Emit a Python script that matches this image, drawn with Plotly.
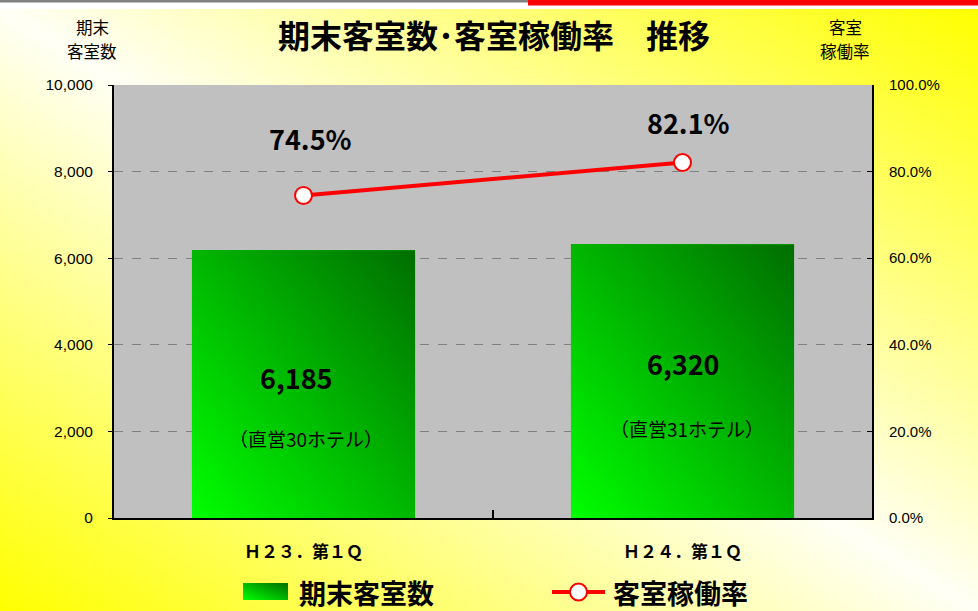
import base64
import plotly.graph_objects as go

# ---- data ----
categories = ["Ｈ２３．第１Ｑ", "Ｈ２４．第１Ｑ"]
rooms = [6185, 6320]
hotel_notes = ["（直営30ホテル）", "（直営31ホテル）"]
occupancy = [0.745, 0.821]
rooms_name = "期末客室数"
occ_name = "客室稼働率"
left_title = ["期末", "客室数"]
right_title = ["客室", "稼働率"]
y_ticks = [0, 2000, 4000, 6000, 8000, 10000]
y2_ticks = [0, 0.2, 0.4, 0.6, 0.8, 1.0]

# ---- layout constants (pixels) ----
W, H = 978, 611
L, R, T, B = 114, 106, 85, 93
PW, PH = W - L - R, H - T - B
JP = "Noto Sans CJK JP"
BW = 0.59


def px(xp):
    return (xp - L) / PW


def py(yp):
    return (H - B - yp) / PH


def svg_uri(svg):
    return "data:image/svg+xml;base64," + base64.b64encode(svg.encode()).decode()


bg_svg = ('<svg xmlns="http://www.w3.org/2000/svg" width="978" height="602" viewBox="0 0 978 602" '
          'preserveAspectRatio="none"><defs><linearGradient id="g" x1="0" y1="1" x2="1" y2="0">'
          '<stop offset="0" stop-color="#FFFF00"/><stop offset="0.5" stop-color="#FFFFF6"/>'
          '<stop offset="1" stop-color="#FFFF00"/></linearGradient></defs>'
          '<rect width="978" height="602" fill="url(#g)"/></svg>')
bar_svg = ('<svg xmlns="http://www.w3.org/2000/svg" width="100" height="100" viewBox="0 0 100 100" '
           'preserveAspectRatio="none"><defs><linearGradient id="b" x1="0" y1="1" x2="1" y2="0">'
           '<stop offset="0" stop-color="#00FF00"/><stop offset="1" stop-color="#006E00"/>'
           '</linearGradient></defs><rect width="100" height="100" fill="url(#b)"/></svg>')

xs = list(range(len(categories)))

fig = go.Figure()
fig.add_trace(go.Bar(x=xs, y=rooms, width=BW, name=rooms_name,
                     marker=dict(color="#00B000", line=dict(width=0)), yaxis="y"))
fig.add_trace(go.Scatter(x=xs, y=occupancy, name=occ_name, mode="lines+markers", yaxis="y2",
                         line=dict(color="#FF0000", width=4),
                         marker=dict(size=17, color="white", line=dict(color="#FF0000", width=2))))

images = [dict(source=svg_uri(bg_svg), xref="paper", yref="paper", x=px(0), y=py(9),
               sizex=W / PW, sizey=(H - 9) / PH, xanchor="left", yanchor="top",
               sizing="stretch", layer="below")]
for i, v in zip(xs, rooms):
    images.append(dict(source=svg_uri(bar_svg), xref="x", yref="y", x=i - BW / 2, y=v,
                       sizex=BW, sizey=v, xanchor="left", yanchor="top",
                       sizing="stretch", layer="above"))
# legend swatch
images.append(dict(source=svg_uri(bar_svg), xref="paper", yref="paper", x=px(243), y=py(583),
                   sizex=45 / PW, sizey=17 / PH, xanchor="left", yanchor="top",
                   sizing="stretch", layer="above"))

shapes = [
    dict(type="rect", xref="paper", yref="paper", x0=0, x1=1, y0=0, y1=1,
         fillcolor="#C0C0C0", line=dict(width=0), layer="below"),
    dict(type="rect", xref="paper", yref="paper", x0=px(0), x1=px(528), y0=py(0), y1=py(2.5),
         fillcolor="#808080", line=dict(width=0)),
    dict(type="rect", xref="paper", yref="paper", x0=px(528), x1=px(W), y0=py(0), y1=py(5.5),
         fillcolor="#FF0000", line=dict(width=0)),
    # legend line symbol
    dict(type="line", xref="paper", yref="paper", x0=px(552), x1=px(605), y0=py(592), y1=py(592),
         line=dict(color="#FF0000", width=4), layer="above"),
    dict(type="circle", xref="paper", yref="paper", x0=px(570), x1=px(587), y0=py(600.5), y1=py(583.5),
         fillcolor="white", line=dict(color="#FF0000", width=2), layer="above"),
]

# label position styles (pixel offsets)
val_y = [377, 363]
note_y = [438, 428]
val_dx = [-7, 1]
note_dx = [2, 4]
pct_y = [138, 122]
pct_dx = [7, 6]

ann = []
for i in xs:
    ann.append(dict(x=i, y=py(val_y[i]), xref="x", yref="paper", xshift=val_dx[i],
                    xanchor="center", yanchor="middle",
                    text=f"{rooms[i]:,}", showarrow=False,
                    font=dict(family=JP, size=27, color="black", weight="bold")))
    ann.append(dict(x=i, y=py(note_y[i]), xref="x", yref="paper", xshift=note_dx[i],
                    xanchor="center", yanchor="middle",
                    text=hotel_notes[i], showarrow=False,
                    font=dict(family=JP, size=19, color="black")))
    ann.append(dict(x=i, y=py(pct_y[i]), xref="x", yref="paper", xshift=pct_dx[i],
                    xanchor="center", yanchor="middle",
                    text=f"{occupancy[i]*100:.1f}%", showarrow=False,
                    font=dict(family=JP, size=27, color="black", weight="bold")))
for txt, yy in zip(left_title, [27, 51]):
    ann.append(dict(x=px(92), y=py(yy), xref="paper", yref="paper", xanchor="center",
                    yanchor="middle", text=txt, showarrow=False,
                    font=dict(family=JP, size=16.5, color="black")))
for txt, yy in zip(right_title, [27, 51]):
    ann.append(dict(x=px(845), y=py(yy), xref="paper", yref="paper", xanchor="center",
                    yanchor="middle", text=txt, showarrow=False,
                    font=dict(family=JP, size=16.5, color="black")))
ann += [
    dict(x=px(297), y=py(592), xref="paper", yref="paper", xanchor="left", yanchor="middle",
         text=rooms_name, showarrow=False,
         font=dict(family=JP, size=27, color="black", weight="bold")),
    dict(x=px(611), y=py(592), xref="paper", yref="paper", xanchor="left", yanchor="middle",
         text=occ_name, showarrow=False,
         font=dict(family=JP, size=27, color="black", weight="bold")),
]

fig.update_layout(
    width=W, height=H, margin=dict(l=L, r=R, t=T, b=B, pad=0),
    paper_bgcolor="white", plot_bgcolor="rgba(0,0,0,0)",
    showlegend=False, bargap=0,
    title=dict(text="期末客室数･客室稼働率　推移", x=494 / W, xanchor="center",
               y=1 - 37 / H, yanchor="middle",
               font=dict(family=JP, size=32, color="black", weight="bold")),
    xaxis=dict(range=[-0.5, 1.5], tickvals=xs, ticktext=categories, ticks="",
               showgrid=False, zeroline=False, showline=True, linecolor="black", linewidth=2,
               ticklabelstandoff=18,
               minor=dict(tickvals=[0.5], ticks="inside", ticklen=8, tickwidth=2, tickcolor="black",
                          showgrid=False),
               tickfont=dict(family=JP, size=17, color="black", weight="bold")),
    yaxis=dict(range=[0, 10000], tickvals=y_ticks, tickformat=",d", showgrid=True,
               gridcolor="#808080", griddash="dash", gridwidth=1, zeroline=False,
               showline=True, linecolor="black", linewidth=2, ticks="outside", ticklen=4,
               tickcolor="black", ticklabelstandoff=12,
               tickfont=dict(family="Liberation Sans", size=15.5, color="black")),
    yaxis2=dict(range=[0, 1], tickvals=y2_ticks, tickformat=".1%", overlaying="y", side="right",
                showgrid=False, zeroline=False, showline=True, linecolor="black", linewidth=2,
                ticks="inside", ticklen=5, tickcolor="black", ticklabelstandoff=12,
                tickfont=dict(family="Liberation Sans", size=15, color="black")),
    images=images, shapes=shapes, annotations=ann,
)

fig.write_html("out.html", config={"displayModeBar": False},
               post_script="document.body.style.margin='0';document.body.style.overflow='hidden';")
